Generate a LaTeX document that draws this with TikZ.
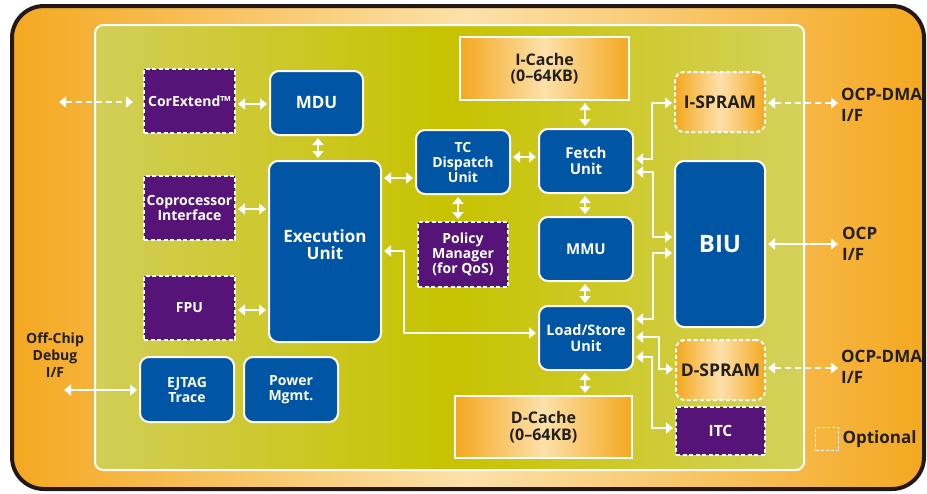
\documentclass[tikz,border=0pt]{standalone}
\usepackage{fontspec}
\setmainfont{Open Sans}
\usetikzlibrary{arrows.meta,calc}
\definecolor{frameorange}{HTML}{F4A820}
\definecolor{framepale}{HTML}{FCE1AA}
\definecolor{panelL}{HTML}{D2CE58}
\definecolor{panelM}{HTML}{C7C300}
\definecolor{panelR}{HTML}{D4D15C}
\definecolor{blk}{HTML}{231815}
\definecolor{blu}{HTML}{0055A4}
\definecolor{purp}{HTML}{561478}
\definecolor{txtdark}{HTML}{231F20}
\begin{document}
\begin{tikzpicture}[x=1pt,y=-1pt,
  box/.style={draw=white, line width=2pt, inner sep=0pt, align=center,
    font=\bfseries\fontsize{14}{15}\selectfont, text=white},
  bluebox/.style={box, fill=blu, rounded corners=9pt},
  optbox/.style={box, fill=purp, dash pattern=on 4pt off 2.5pt},
  cachebox/.style={box, left color=frameorange, right color=frameorange,
    middle color=framepale, text=txtdark},
  spram/.style={cachebox, rounded corners=9pt, dash pattern=on 4pt off 2.5pt},
  link/.style={draw=white, line width=2.8pt,
    {Triangle[length=7pt,width=11pt]}-{Triangle[length=7pt,width=11pt]},
    shorten >=2pt, shorten <=2pt},
  dlink/.style={link, dash pattern=on 6pt off 4pt},
  ext/.style={text=txtdark, font=\bfseries\fontsize{17}{21}\selectfont,
    align=left, inner sep=0pt},
]
\useasboundingbox (0,0) rectangle (927,493);
\fill[white] (0,0) rectangle (927,493);
% outer frame
\draw[draw=blk, line width=4pt, rounded corners=32pt,
  left color=frameorange, right color=frameorange, middle color=framepale]
  (12,6) rectangle (924,489);
% green panel
\draw[draw=white, line width=2pt, rounded corners=8pt,
  left color=panelL, right color=panelR, middle color=panelM]
  (95,25) rectangle (804,470);

% left column
\node[optbox, minimum width=91pt, minimum height=64pt] (corext) at (189.5,101) {CorExtend™};
\node[optbox, minimum width=91pt, minimum height=64pt] (copro) at (189.5,208) {Coprocessor\\Interface};
\node[optbox, minimum width=91pt, minimum height=64pt] (fpu) at (189.5,307.5) {FPU};
\node[bluebox, minimum width=94pt, minimum height=65pt] (ejtag) at (187,389.5) {EJTAG\\Trace};
\node[bluebox, minimum width=94pt, minimum height=65pt] (power) at (291,389.5) {Power\\Mgmt.};
% second column
\node[bluebox, minimum width=93pt, minimum height=64pt, font=\bfseries\fontsize{17}{18}\selectfont] (mdu) at (316.5,103) {MDU};
\node[bluebox, minimum width=112pt, minimum height=181pt, font=\bfseries\fontsize{17}{17}\selectfont] (exec) at (325,251.5) {Execution\\Unit\\[-4pt]};
% third column
\node[bluebox, minimum width=94pt, minimum height=64pt] (tc) at (463,162) {TC\\Dispatch\\Unit};
\node[optbox, minimum width=90pt, minimum height=65pt] (policy) at (463,254.5) {Policy\\Manager\\(for QoS)};
% fourth column
\node[cachebox, minimum width=169pt, minimum height=63pt, font=\bfseries\fontsize{16}{16.5}\selectfont] (icache) at (544.5,68.5) {I-Cache\\(0–64KB)};
\node[bluebox, minimum width=94pt, minimum height=64pt, font=\bfseries\fontsize{15}{16}\selectfont] (fetch) at (586,161) {Fetch\\Unit};
\node[bluebox, minimum width=94pt, minimum height=64pt, font=\bfseries\fontsize{15}{16}\selectfont] (mmu) at (586,249) {MMU};
\node[bluebox, minimum width=94pt, minimum height=64pt, font=\bfseries\fontsize{14.5}{16}\selectfont] (ls) at (586,338) {Load/Store\\Unit};
\node[cachebox, minimum width=177pt, minimum height=62pt, font=\bfseries\fontsize{16}{16.5}\selectfont] (dcache) at (543.5,427) {D-Cache\\(0–64KB)};
% fifth column
\node[spram, minimum width=90pt, minimum height=60pt, font=\bfseries\fontsize{17.5}{18}\selectfont] (ispram) at (720,102) {I-SPRAM};
\node[bluebox, minimum width=90pt, minimum height=166pt, font=\bfseries\fontsize{24}{26}\selectfont] (biu) at (720,244) {BIU};
\node[spram, minimum width=89pt, minimum height=60pt, font=\bfseries\fontsize{17.5}{18}\selectfont] (dspram) at (720.5,370) {D-SPRAM};
\node[optbox, minimum width=89pt, minimum height=48pt, font=\bfseries\fontsize{15.5}{16}\selectfont] (itc) at (720.5,431) {ITC};

% external labels
\node[ext, anchor=north west] (ocpdmaA) at (841,88) {OCP-DMA\\I/F};
\node[ext, anchor=north west] (ocp) at (842,227) {OCP\\I/F};
\node[ext, anchor=north west] (ocpdmaB) at (841,350) {OCP-DMA\\I/F};
\node[ext, align=center, anchor=north, font=\bfseries\fontsize{14}{17}\selectfont] (debug) at (55,333) {Off-Chip\\Debug\\I/F};
\node[draw=white, line width=1.6pt, dash pattern=on 3pt off 2pt, minimum width=23pt, minimum height=23pt, inner sep=0pt] (legend) at (827,439) {};
\node[ext, anchor=west] (legtext) at ([xshift=3pt]legend.east) {Optional};

\coordinate (corextL) at (59,102);
\coordinate (debugR) at (64,390);
\coordinate (dmaA) at (838,103);
\coordinate (ocpL) at (838,244);
\coordinate (dmaB) at (838,368);

% connectors
\draw[dlink, shorten <=0pt, shorten >=10pt] (corextL) -- (corext.west |- 0,102);
\draw[link] (corext.east |- 0,104) -- (mdu.west |- 0,104);
\draw[link] (mdu.south -| 318,0) -- (exec.north -| 318,0);
\draw[link] (copro.east |- 0,209) -- (exec.west |- 0,209);
\draw[link] (fpu.east |- 0,310) -- (exec.west |- 0,310);
\draw[link, shorten <=0pt] (debugR) -- (ejtag.west |- 0,390);
\draw[link] (exec.east |- 0,178) -- (tc.west |- 0,178);
\draw[link] (tc.south -| 458,0) -- (policy.north -| 458,0);
\draw[link] (exec.east |- 0,251) -- (404,251) -- (404,333) -- (ls.west |- 0,333);
\draw[link] (tc.east |- 0,157) -- (fetch.west |- 0,157);
\draw[link] (icache.south -| 585,0) -- (fetch.north -| 585,0);
\draw[link] (fetch.south -| 585,0) -- (mmu.north -| 585,0);
\draw[link] (mmu.south -| 585,0) -- (ls.north -| 585,0);
\draw[link] (ls.south -| 585,0) -- (dcache.north -| 585,0);
\draw[link] (fetch.east |- 0,159) -- (652,159) -- (652,103) -- (ispram.west |- 0,103);
\draw[link] (fetch.east |- 0,172) -- (653,172) -- (653,237) -- (biu.west |- 0,237);
\draw[link] (ls.east |- 0,319) -- (653,319) -- (653,253) -- (biu.west |- 0,253);
\draw[link] (ls.east |- 0,337) -- (659,337) -- (659,369) -- (dspram.west |- 0,369);
\draw[link] (ls.east |- 0,357) -- (652,357) -- (652,428) -- (itc.west |- 0,428);
\draw[dlink, shorten >=0pt] (ispram.east |- 0,103) -- (dmaA);
\draw[link, shorten >=0pt] (biu.east |- 0,244) -- (ocpL);
\draw[dlink, shorten >=0pt] (dspram.east |- 0,368) -- (dmaB);
\end{tikzpicture}
\end{document}
